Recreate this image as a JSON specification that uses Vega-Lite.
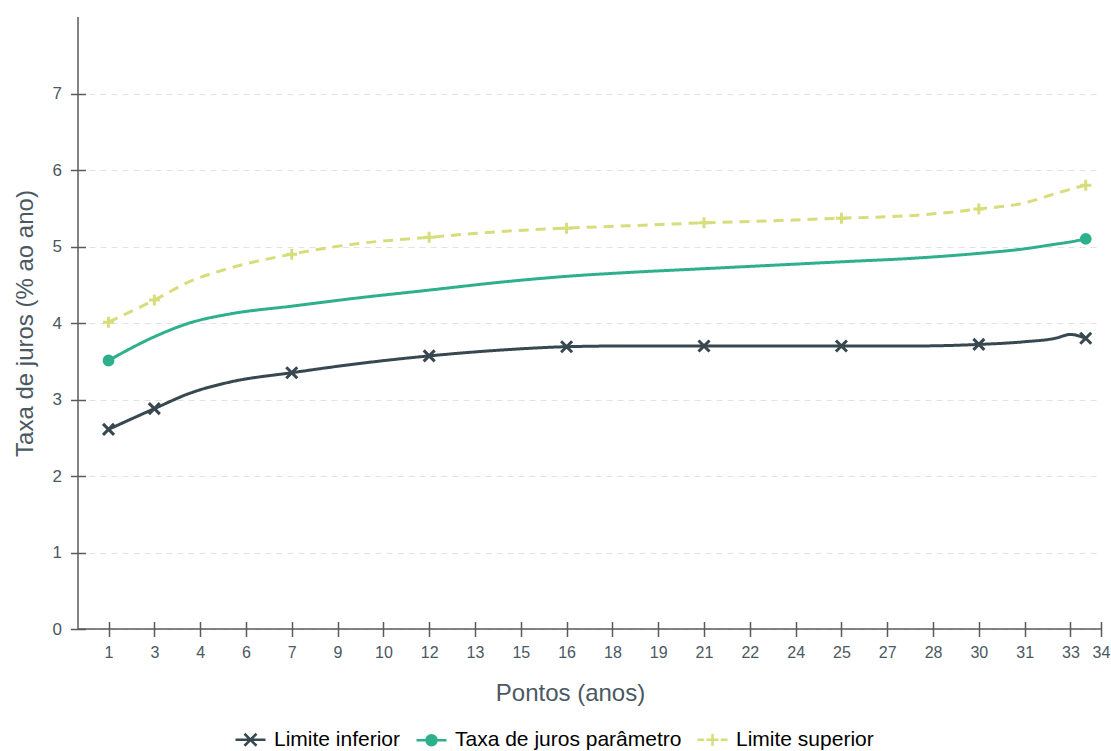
{
  "$schema": "https://vega.github.io/schema/vega-lite/v6.json",
  "width": 1023,
  "height": 612,
  "autosize": "none",
  "padding": {"left": 78, "top": 17, "right": 10, "bottom": 122},
  "background": "white",
  "config": {"view": {"stroke": null}, "font": "Liberation Sans"},
  "data": {"values": [
    {"x": 1, "serie": "Limite inferior", "y": 2.61, "m": 1},
    {"x": 2.5, "serie": "Limite inferior", "y": 2.88, "m": 1},
    {"x": 3.65, "serie": "Limite inferior", "y": 3.08, "m": 0},
    {"x": 5, "serie": "Limite inferior", "y": 3.23, "m": 0},
    {"x": 7, "serie": "Limite inferior", "y": 3.35, "m": 1},
    {"x": 9, "serie": "Limite inferior", "y": 3.46, "m": 0},
    {"x": 11.5, "serie": "Limite inferior", "y": 3.57, "m": 1},
    {"x": 14, "serie": "Limite inferior", "y": 3.65, "m": 0},
    {"x": 16, "serie": "Limite inferior", "y": 3.69, "m": 1},
    {"x": 18, "serie": "Limite inferior", "y": 3.70, "m": 0},
    {"x": 20.5, "serie": "Limite inferior", "y": 3.70, "m": 1},
    {"x": 23, "serie": "Limite inferior", "y": 3.70, "m": 0},
    {"x": 25, "serie": "Limite inferior", "y": 3.70, "m": 1},
    {"x": 27.5, "serie": "Limite inferior", "y": 3.70, "m": 0},
    {"x": 29.5, "serie": "Limite inferior", "y": 3.72, "m": 1},
    {"x": 31, "serie": "Limite inferior", "y": 3.755, "m": 0},
    {"x": 32, "serie": "Limite inferior", "y": 3.80, "m": 0},
    {"x": 32.5, "serie": "Limite inferior", "y": 3.85, "m": 0},
    {"x": 33, "serie": "Limite inferior", "y": 3.80, "m": 1},
    {"x": 1, "serie": "Taxa de juros parâmetro", "y": 3.51, "m": 1},
    {"x": 2.5, "serie": "Taxa de juros parâmetro", "y": 3.82, "m": 0},
    {"x": 3.65, "serie": "Taxa de juros parâmetro", "y": 4.00, "m": 0},
    {"x": 5, "serie": "Taxa de juros parâmetro", "y": 4.12, "m": 0},
    {"x": 7, "serie": "Taxa de juros parâmetro", "y": 4.22, "m": 0},
    {"x": 9, "serie": "Taxa de juros parâmetro", "y": 4.32, "m": 0},
    {"x": 11.5, "serie": "Taxa de juros parâmetro", "y": 4.43, "m": 0},
    {"x": 14, "serie": "Taxa de juros parâmetro", "y": 4.54, "m": 0},
    {"x": 16, "serie": "Taxa de juros parâmetro", "y": 4.61, "m": 0},
    {"x": 18, "serie": "Taxa de juros parâmetro", "y": 4.66, "m": 0},
    {"x": 20.5, "serie": "Taxa de juros parâmetro", "y": 4.71, "m": 0},
    {"x": 23, "serie": "Taxa de juros parâmetro", "y": 4.76, "m": 0},
    {"x": 25, "serie": "Taxa de juros parâmetro", "y": 4.80, "m": 0},
    {"x": 27.5, "serie": "Taxa de juros parâmetro", "y": 4.85, "m": 0},
    {"x": 29.5, "serie": "Taxa de juros parâmetro", "y": 4.91, "m": 0},
    {"x": 31, "serie": "Taxa de juros parâmetro", "y": 4.97, "m": 0},
    {"x": 32, "serie": "Taxa de juros parâmetro", "y": 5.03, "m": 0},
    {"x": 32.5, "serie": "Taxa de juros parâmetro", "y": 5.06, "m": 0},
    {"x": 33, "serie": "Taxa de juros parâmetro", "y": 5.10, "m": 1},
    {"x": 1, "serie": "Limite superior", "y": 4.01, "m": 1},
    {"x": 2.5, "serie": "Limite superior", "y": 4.30, "m": 1},
    {"x": 3.65, "serie": "Limite superior", "y": 4.54, "m": 0},
    {"x": 5, "serie": "Limite superior", "y": 4.72, "m": 0},
    {"x": 7, "serie": "Limite superior", "y": 4.90, "m": 1},
    {"x": 9, "serie": "Limite superior", "y": 5.03, "m": 0},
    {"x": 11.5, "serie": "Limite superior", "y": 5.12, "m": 1},
    {"x": 14, "serie": "Limite superior", "y": 5.20, "m": 0},
    {"x": 16, "serie": "Limite superior", "y": 5.24, "m": 1},
    {"x": 18, "serie": "Limite superior", "y": 5.27, "m": 0},
    {"x": 20.5, "serie": "Limite superior", "y": 5.31, "m": 1},
    {"x": 23, "serie": "Limite superior", "y": 5.34, "m": 0},
    {"x": 25, "serie": "Limite superior", "y": 5.37, "m": 1},
    {"x": 27.5, "serie": "Limite superior", "y": 5.41, "m": 0},
    {"x": 29.5, "serie": "Limite superior", "y": 5.49, "m": 1},
    {"x": 31, "serie": "Limite superior", "y": 5.57, "m": 0},
    {"x": 32, "serie": "Limite superior", "y": 5.69, "m": 0},
    {"x": 32.5, "serie": "Limite superior", "y": 5.75, "m": 0},
    {"x": 33, "serie": "Limite superior", "y": 5.80, "m": 1}
  ]},
  "layer": [
    {
      "data": {"values": [{}]},
      "mark": {"type": "rule", "color": "#5a5a5a", "strokeWidth": 1.5},
      "encoding": {"x": {"datum": 0, "type": "quantitative"}}
    },
    {
      "data": {"values": [{}]},
      "mark": {"type": "rule", "color": "#5a5a5a", "strokeWidth": 1.5},
      "encoding": {"y": {"datum": 0, "type": "quantitative"}}
    },
    {
      "mark": {"type": "line", "interpolate": "monotone", "strokeWidth": 3},
      "encoding": {
        "x": {"field": "x", "type": "quantitative",
          "scale": {"domain": [0, 33.5], "nice": false, "zero": false},
          "axis": {"title": "Pontos (anos)",
            "values": [1, 2.5, 4, 5.5, 7, 8.5, 10, 11.5, 13, 14.5, 16, 17.5, 19, 20.5, 22, 23.5, 25, 26.5, 28, 29.5, 31, 32.5, 33.5],
            "format": "d", "domain": false, "grid": false, "offset": -7.5, "tickSize": 15,
            "tickColor": "#5a5a5a", "tickWidth": 1.5, "labelFontSize": 16, "labelColor": "#4a5862",
            "labelPadding": 8, "labelFlush": false, "labelOverlap": false,
            "titleFontSize": 24, "titleColor": "#4a5862", "titleFontWeight": "normal", "titlePadding": 21,
            "titleX": 492}},
        "y": {"field": "y", "type": "quantitative",
          "scale": {"domain": [0, 8], "nice": false},
          "axis": {"title": "Taxa de juros (% ao ano)", "values": [0, 1, 2, 3, 4, 5, 6, 7], "format": "d",
            "domain": false, "grid": true, "gridDash": [6, 5], "gridColor": "#e2e2e2", "gridWidth": 1,
            "offset": -7.5, "tickSize": 15, "tickColor": "#5a5a5a", "tickWidth": 1.5,
            "labelFontSize": 17, "labelColor": "#4a5862", "labelPadding": 9,
            "titleFontSize": 24, "titleColor": "#4a5862", "titleFontWeight": "normal", "titlePadding": 15}},
        "color": {"field": "serie", "type": "nominal", "legend": null,
          "scale": {"domain": ["Limite inferior", "Taxa de juros parâmetro", "Limite superior"],
                    "range": ["#374850", "#2fb08d", "#d8dd7c"]}},
        "strokeDash": {"field": "serie", "type": "nominal", "legend": null,
          "scale": {"domain": ["Limite inferior", "Taxa de juros parâmetro", "Limite superior"],
                    "range": [[1, 0], [1, 0], [10, 7]]}}
      }
    },
    {
      "transform": [{"filter": "datum.m == 1"}],
      "mark": {"type": "point", "filled": true, "strokeWidth": 3, "size": 121, "opacity": 1},
      "encoding": {
        "x": {"field": "x", "type": "quantitative"},
        "y": {"field": "y", "type": "quantitative"},
        "shape": {"field": "serie", "type": "nominal", "legend": null,
          "scale": {"domain": ["Limite inferior", "Taxa de juros parâmetro", "Limite superior"],
                    "range": ["M-1,-1L1,1M-1,1L1,-1", "M0.8,0A0.8,0.8 0 1,1 -0.8,0A0.8,0.8 0 1,1 0.8,0Z", "M-1,0H1M0,-1V1"]}},
        "color": {"field": "serie", "type": "nominal", "legend": null,
          "scale": {"domain": ["Limite inferior", "Taxa de juros parâmetro", "Limite superior"],
                    "range": ["#374850", "#2fb08d", "#d8dd7c"]}},
        "stroke": {"field": "serie", "type": "nominal", "legend": null,
          "scale": {"domain": ["Limite inferior", "Taxa de juros parâmetro", "Limite superior"],
                    "range": ["#374850", "#2fb08d", "#d8dd7c"]}}
      }
    },
    {
      "transform": [{"filter": "datum.m == 1"}],
      "mark": {"type": "point", "filled": true, "strokeWidth": 2.5, "opacity": 0},
      "encoding": {
        "x": {"field": "x", "type": "quantitative"},
        "y": {"field": "y", "type": "quantitative"},
        "shape": {"field": "serie", "type": "nominal",
          "scale": {"domain": ["Limite inferior", "Taxa de juros parâmetro", "Limite superior"],
                    "range": ["M-1,0H1M-0.4,-0.4L0.4,0.4M-0.4,0.4L0.4,-0.4",
                              "M-1,0H1M0.33,0A0.33,0.33 0 1,1 -0.33,0A0.33,0.33 0 1,1 0.33,0Z",
                              "M-1,0H-0.55M-0.4,0H0.4M0.55,0H1M0,-0.4V0.4"]},
          "legend": {"orient": "none", "legendX": 156, "legendY": 706, "direction": "horizontal",
            "title": null, "symbolSize": 900, "symbolStrokeWidth": 2.5, "symbolOpacity": 1,
            "labelFontSize": 21, "labelFont": "Liberation Sans", "labelOffset": 7,
            "columnPadding": 10, "padding": 0, "labelLimit": 400,
            "encode": {"labels": {"update": {"fill": {"signal": "datum.label == 'Limite inferior' ? '#1e272c' : '#4a5862'"}}}}}},
        "color": {"field": "serie", "type": "nominal",
          "scale": {"domain": ["Limite inferior", "Taxa de juros parâmetro", "Limite superior"],
                    "range": ["#374850", "#2fb08d", "#d8dd7c"]}},
        "stroke": {"field": "serie", "type": "nominal",
          "scale": {"domain": ["Limite inferior", "Taxa de juros parâmetro", "Limite superior"],
                    "range": ["#374850", "#2fb08d", "#d8dd7c"]}}
      }
    }
  ],
  "resolve": {"scale": {"shape": "independent", "color": "independent", "stroke": "independent"}}
}
